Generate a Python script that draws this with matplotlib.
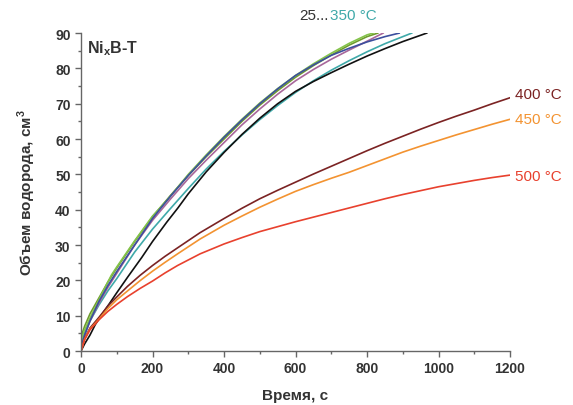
import numpy as np
import matplotlib.pyplot as plt
from matplotlib.ticker import MultipleLocator

plt.rcParams['font.family'] = ['Liberation Sans', 'DejaVu Sans']
plt.rcParams['mathtext.fontset'] = 'custom'
plt.rcParams['mathtext.bf'] = 'Liberation Sans:bold'
plt.rcParams['mathtext.rm'] = 'Liberation Sans'

# 25...350 C group
t_black = [0, 10, 25, 40, 56, 80, 100, 131, 170, 200, 240, 271, 300, 350, 400, 450, 500, 550, 600, 650, 700, 750, 800, 850, 900, 967]
v_black = [0, 2, 4.5, 7.5, 10, 13.5, 16.5, 21, 26.5, 31, 36.5, 40.5, 44.5, 50.7, 56.2, 61.3, 65.9, 70, 73.5, 76.3, 78.8, 81.2, 83.5, 85.6, 87.6, 90]
t_teal = [0, 10, 25, 50, 75, 100, 150, 200, 249, 300, 350, 400, 453, 500, 550, 600, 650, 700, 750, 800, 850, 900, 925]
v_teal = [2, 5, 8.5, 13, 17, 20.5, 28, 34.5, 40.2, 46, 51.5, 56.5, 61.4, 65.5, 69.5, 73.2, 76.5, 79.5, 82.2, 84.7, 87, 89, 90]
t_pink = [0, 10, 25, 50, 75, 100, 150, 200, 250, 300, 350, 400, 450, 500, 550, 600, 650, 700, 750, 800, 845]
v_pink = [1, 4.5, 8.5, 13.5, 18, 22, 30, 37, 43, 48.8, 54, 59, 64, 68.5, 72.7, 76.5, 79.7, 82.6, 85.2, 87.7, 90]
t_blue = [0, 10, 25, 50, 75, 100, 150, 200, 221, 250, 300, 350, 400, 450, 500, 550, 600, 650, 700, 750, 800, 850, 890]
v_blue = [1, 4.5, 8.5, 14, 18.5, 22.5, 30, 37.5, 40.2, 43.8, 49.7, 55.2, 60.5, 65.4, 70, 74.2, 78, 81, 83.7, 85.7, 87.5, 89, 90]
t_olive = [0, 10, 25, 50, 75, 100, 150, 200, 250, 300, 350, 400, 450, 500, 550, 600, 650, 700, 750, 800, 830]
v_olive = [4, 7, 10.5, 15, 19.5, 23.5, 31, 38, 44, 49.7, 55, 60, 65, 69.6, 73.7, 77.5, 80.8, 83.8, 86.6, 89, 90]
t_green = [0, 10, 28, 50, 85, 100, 150, 200, 243, 300, 350, 400, 450, 500, 550, 600, 650, 700, 750, 800, 817]
v_green = [3, 6, 10, 14.5, 21.5, 23.8, 31.2, 38.2, 43, 50, 55.5, 60.7, 65.6, 70.2, 74.3, 78, 81.3, 84.3, 87.1, 89.5, 90]

# 400, 450, 500 C
t_hot = [0, 10, 25, 50, 75, 100, 130, 165, 200, 235, 270, 333, 400, 450, 500, 550, 600, 650, 700, 750, 800, 850, 900, 950, 1000, 1050, 1100, 1150, 1200]
v_400 = [0, 3.5, 6.5, 9.5, 12.7, 15.3, 18.3, 21.4, 24.2, 26.8, 29.2, 33.5, 37.5, 40.4, 43.1, 45.5, 47.8, 50.1, 52.3, 54.5, 56.7, 58.8, 60.8, 62.8, 64.7, 66.5, 68.2, 70, 71.7]
v_450 = [0, 3.3, 6.2, 9, 12, 14.5, 17, 19.9, 22.6, 25.1, 27.5, 31.7, 35.6, 38.2, 40.7, 43, 45.2, 47.1, 48.9, 50.6, 52.5, 54.4, 56.3, 58, 59.6, 61.2, 62.7, 64.2, 65.6]
v_500 = [0, 3.2, 6, 8.8, 11.2, 13.2, 15.4, 17.7, 19.8, 22.1, 24.2, 27.5, 30.3, 32.1, 33.8, 35.2, 36.6, 37.9, 39.2, 40.5, 41.8, 43.1, 44.3, 45.4, 46.5, 47.4, 48.3, 49.1, 49.8]

fig = plt.figure(figsize=(5.73, 4.06), dpi=100)
ax = fig.add_axes([0.1414, 0.133, 0.7487, 0.783])

lw = 1.2
ax.plot(t_teal, v_teal, color='#3fa9a9', lw=lw)
ax.plot(t_black, v_black, color='#111111', lw=lw)
ax.plot(t_pink, v_pink, color='#a8679a', lw=lw)
ax.plot(t_olive, v_olive, color='#6f9a2e', lw=lw)
ax.plot(t_green, v_green, color='#84c44a', lw=lw)
ax.plot(t_blue, v_blue, color='#3c4f9e', lw=lw)
ax.plot(t_hot, v_400, color='#7b2323', lw=lw)
ax.plot(t_hot, v_450, color='#f39331', lw=lw)
ax.plot(t_hot, v_500, color='#e8412e', lw=lw)

ax.set_xlim(0, 1200)
ax.set_ylim(0, 90)
ax.spines['top'].set_visible(False)
ax.spines['right'].set_visible(False)
for s in ['left', 'bottom']:
    ax.spines[s].set_color('#666666')
    ax.spines[s].set_linewidth(1.0)
ax.xaxis.set_major_locator(MultipleLocator(200))
ax.xaxis.set_minor_locator(MultipleLocator(100))
ax.yaxis.set_major_locator(MultipleLocator(10))
ax.yaxis.set_minor_locator(MultipleLocator(5))
ax.tick_params(which='major', direction='out', length=4, width=1, color='#666666',
               labelsize=10, labelcolor='#333333')
ax.tick_params(which='minor', direction='out', length=2.5, width=1, color='#666666')
for lab in ax.get_xticklabels() + ax.get_yticklabels():
    lab.set_fontweight('bold')

ax.set_xlabel('Время, с', fontsize=11, fontweight='bold', color='#333333', labelpad=9)
ax.set_ylabel('Объем водорода, см$^\\mathbf{3}$', fontsize=11, fontweight='bold',
              color='#333333', labelpad=12)

ax.text(18, 86, 'Ni$_\\mathbf{x}$B-T', fontsize=11.5, fontweight='bold', color='#333333',
        va='center', ha='left')
ax.text(610, 95.2, '25...', fontsize=11, color='#333333', va='center', ha='left',
        clip_on=False)
ax.text(697, 95.2, '350 °C', fontsize=11, color='#3fa9a9', va='center', ha='left',
        clip_on=False)
ax.text(1213, 72.8, '400 °C', fontsize=11, color='#7b2323', va='center', ha='left',
        clip_on=False)
ax.text(1213, 65.8, '450 °C', fontsize=11, color='#f39331', va='center', ha='left',
        clip_on=False)
ax.text(1213, 49.6, '500 °C', fontsize=11, color='#e8412e', va='center', ha='left',
        clip_on=False)

fig.savefig('out.png', dpi=100)
